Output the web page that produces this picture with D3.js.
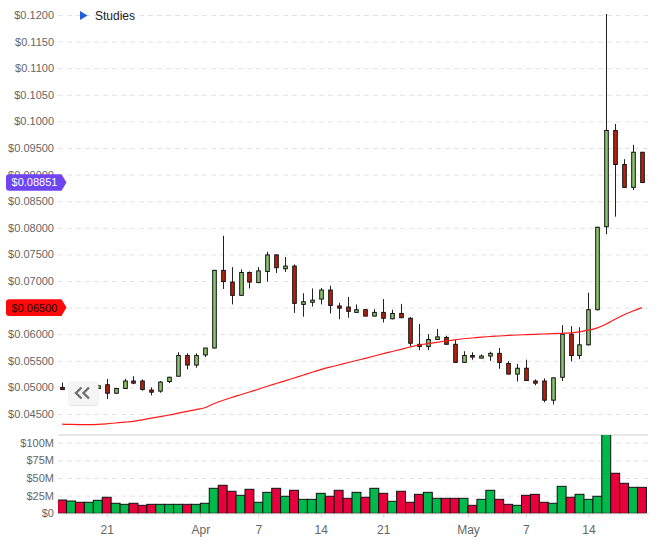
<!DOCTYPE html>
<html>
<head>
<meta charset="utf-8">
<script src="https://cdn.jsdelivr.net/npm/d3@7/dist/d3.min.js"></script>
<style>
  body { margin: 0; background: #fff; }
  svg { display: block; font-family: "Liberation Sans", Arial, sans-serif; }
  .grid line { stroke: #e3e3eb; stroke-dasharray: 5,4; }
  .grid text { fill: #666; font-size: 11px; }
</style>
</head>
<body>
<svg id="chart" width="658" height="547"></svg>
<script>
(function () {
  // Daily candles, 16 Mar .. 20 May
  const firstDay = "2018-03-16";
  const lastDay = "2018-05-20";

  const opens = [0.0500, 0.0497, 0.0502, 0.0498, 0.0498, 0.0505, 0.0489, 0.0498, 0.0512, 0.0512,
    0.0495, 0.0493, 0.0511, 0.0521, 0.0560, 0.0542, 0.0561, 0.0574, 0.0720, 0.0698,
    0.0673, 0.0716, 0.0697, 0.0718, 0.0749, 0.0723, 0.0728, 0.0656, 0.0660, 0.0666,
    0.0683, 0.0653, 0.0651, 0.0641, 0.0646, 0.0634, 0.0641, 0.0629, 0.0639, 0.0630,
    0.0581, 0.0577, 0.0590, 0.0594, 0.0581, 0.0547, 0.0560, 0.0555, 0.0559, 0.0564,
    0.0545, 0.0525, 0.0536, 0.0512, 0.0512, 0.0476, 0.0519, 0.0600, 0.0560, 0.0580,
    0.0646, 0.0802, 0.0983, 0.0919, 0.0876, 0.0942];
  const highs = [0.0509, 0.0505, 0.0506, 0.0507, 0.0505, 0.0516, 0.0499, 0.0516, 0.0521, 0.0515,
    0.0500, 0.0512, 0.0520, 0.0566, 0.0564, 0.0564, 0.0574, 0.0721, 0.0785, 0.0726,
    0.0722, 0.0718, 0.0726, 0.0755, 0.0750, 0.0745, 0.0731, 0.0677, 0.0686, 0.0687,
    0.0691, 0.0659, 0.0670, 0.0656, 0.0647, 0.0647, 0.0666, 0.0646, 0.0657, 0.0632,
    0.0619, 0.0600, 0.0610, 0.0597, 0.0589, 0.0568, 0.0566, 0.0562, 0.0567, 0.0574,
    0.0549, 0.0544, 0.0552, 0.0515, 0.0517, 0.0518, 0.0617, 0.0615, 0.0613, 0.0678,
    0.0802, 0.1202, 0.0995, 0.0929, 0.0956, 0.0942];
  const lows = [0.0496, 0.0494, 0.0495, 0.0496, 0.0497, 0.0478, 0.0488, 0.0497, 0.0506, 0.0494,
    0.0485, 0.0490, 0.0508, 0.0521, 0.0534, 0.0537, 0.0557, 0.0573, 0.0685, 0.0656,
    0.0673, 0.0686, 0.0696, 0.0699, 0.0715, 0.0717, 0.0640, 0.0633, 0.0652, 0.0656,
    0.0639, 0.0628, 0.0631, 0.0641, 0.0634, 0.0634, 0.0622, 0.0628, 0.0631, 0.0577,
    0.0570, 0.0570, 0.0590, 0.0581, 0.0547, 0.0547, 0.0552, 0.0555, 0.0550, 0.0535,
    0.0525, 0.0511, 0.0513, 0.0504, 0.0472, 0.0468, 0.0512, 0.0549, 0.0553, 0.0579,
    0.0645, 0.0788, 0.0821, 0.0876, 0.0871, 0.0885];
  const closes = [0.0496, 0.0502, 0.0498, 0.0503, 0.0503, 0.0489, 0.0498, 0.0512, 0.0508, 0.0496,
    0.0491, 0.0510, 0.0519, 0.0560, 0.0542, 0.0560, 0.0574, 0.0720, 0.0699, 0.0673,
    0.0716, 0.0698, 0.0719, 0.0749, 0.0725, 0.0728, 0.0658, 0.0661, 0.0664, 0.0683,
    0.0654, 0.0649, 0.0643, 0.0646, 0.0634, 0.0641, 0.0630, 0.0639, 0.0631, 0.0583,
    0.0577, 0.0590, 0.0595, 0.0581, 0.0547, 0.0560, 0.0557, 0.0559, 0.0564, 0.0547,
    0.0525, 0.0536, 0.0513, 0.0508, 0.0476, 0.0518, 0.0600, 0.0560, 0.0580, 0.0646,
    0.0801, 0.0983, 0.0919, 0.0876, 0.0942, 0.08851];
  // volume in $M
  const volumes = [18.8, 17.4, 15.6, 15.6, 18.4, 22.7, 14.2, 12.7, 14.2, 11.3,
    12.7, 12.7, 12.7, 12.7, 12.7, 12.7, 14.2, 35.4, 39.7, 31.2,
    25.5, 34.0, 15.6, 29.7, 35.4, 24.1, 32.6, 19.8, 19.8, 28.3,
    24.1, 32.6, 21.2, 29.7, 22.7, 35.4, 28.3, 17.0, 31.2, 15.6,
    26.9, 29.7, 21.2, 21.2, 21.2, 21.2, 11.3, 19.8, 32.6, 19.8,
    12.7, 11.3, 25.5, 26.9, 15.6, 14.2, 38.2, 22.7, 26.9, 19.8,
    24.1, 112, 56.7, 42.5, 36.8, 36.8];
  // moving average study
  const movingAvg = [0.04308, 0.04304, 0.04302, 0.04302, 0.04306, 0.04316, 0.04331, 0.04346, 0.04363, 0.04391,
    0.04421, 0.04451, 0.04481, 0.04515, 0.04549, 0.04581, 0.04618, 0.04692, 0.04754, 0.04810,
    0.04861, 0.04914, 0.04966, 0.05021, 0.05073, 0.05124, 0.05177, 0.05229, 0.05284, 0.05335,
    0.05380, 0.05421, 0.05464, 0.05506, 0.05547, 0.05590, 0.05634, 0.05675, 0.05716, 0.05759,
    0.05797, 0.05823, 0.05848, 0.05872, 0.05895, 0.05914, 0.05929, 0.05944, 0.05957, 0.05966,
    0.05977, 0.05985, 0.05992, 0.05998, 0.06004, 0.06009, 0.06017, 0.06026, 0.06045, 0.06075,
    0.06120, 0.06192, 0.06282, 0.06365, 0.06436, 0.06500];

  const priceTicks = [0.045, 0.050, 0.055, 0.060, 0.065, 0.070, 0.075, 0.080,
    0.085, 0.090, 0.095, 0.100, 0.105, 0.110, 0.115, 0.120];
  const volumeTicks = [0, 25, 50, 75, 100];
  const tickDates = ["2018-03-21T12:00Z", "2018-04-01T00:00Z", "2018-04-07T12:00Z", "2018-04-14T12:00Z",
    "2018-04-21T12:00Z", "2018-05-01T00:00Z", "2018-05-07T12:00Z", "2018-05-14T12:00Z"];
  const tickLabels = ["21", "Apr", "7", "14", "21", "May", "7", "14"];

  // Layout
  const plotL = 58, plotR = 648;
  const priceTop = 0, priceBottom = 435;
  const volTop = 435, volBottom = 513.3;

  const svg = d3.select("#chart");

  const days = d3.utcDay.range(new Date(firstDay), d3.utcDay.offset(new Date(lastDay), 1));
  const candles = days.map((d, i) => ({
    date: d3.utcHour.offset(d, 12),
    open: opens[i], high: highs[i], low: lows[i], close: closes[i],
    volume: volumes[i], ma: movingAvg[i],
    up: closes[i] >= opens[i],
  }));

  const x = d3.scaleUtc()
    .domain([d3.utcHour.offset(new Date(firstDay), 1), d3.utcMinute.offset(new Date(lastDay), 28 * 60 + 19)])
    .range([plotL, plotR]);
  const band = x(candles[1].date) - x(candles[0].date);

  const y = d3.scaleLinear().domain([0.045, 0.12]).range([414, 15]);
  const yVol = d3.scaleLinear().domain([0, 100]).range([volBottom, 442.7]);

  const lastClose = closes[closes.length - 1];
  const lastMa = movingAvg[movingAvg.length - 1];

  const defs = svg.append("defs");
  defs.append("clipPath").attr("id", "clipPrice")
    .append("rect").attr("x", plotL).attr("y", priceTop)
    .attr("width", plotR - plotL).attr("height", priceBottom - priceTop);
  defs.append("clipPath").attr("id", "clipVol")
    .append("rect").attr("x", plotL).attr("y", volTop)
    .attr("width", plotR - plotL).attr("height", volBottom - volTop);

  // Price grid + axis
  const priceFmt = d3.format("$.4r");
  svg.append("g")
    .attr("class", "grid")
    .attr("transform", `translate(${plotL},0)`)
    .call(d3.axisLeft(y).tickValues(priceTicks).tickFormat(priceFmt)
      .tickSizeInner(-(plotR - plotL)).tickSizeOuter(0).tickPadding(4))
    .call(g => g.select(".domain").remove())
    // labels fully covered by the price tags are not shown
    .call(g => g.selectAll(".tick").filter(d => Math.abs(y(d) - y(lastMa)) < 6 || Math.abs(y(d) - y(lastClose)) < 6)
      .select("text").remove());

  // Volume grid + axis
  const volFmt = d3.format("$~s");
  svg.append("g")
    .attr("class", "grid")
    .attr("transform", `translate(${plotL},0)`)
    .call(d3.axisLeft(yVol).tickValues(volumeTicks).tickFormat(d => volFmt(d * 1e6))
      .tickSizeInner(-(plotR - plotL)).tickSizeOuter(0).tickPadding(4))
    .call(g => g.select(".domain").remove())
    .call(g => g.selectAll(".tick").filter(d => d === 0).select("line").remove());

  // Panel separator
  svg.append("line")
    .attr("x1", plotL).attr("x2", plotR)
    .attr("y1", priceBottom).attr("y2", priceBottom)
    .attr("stroke", "#cfcfcf").attr("stroke-width", 1);

  // X axis
  const xAxis = svg.append("g")
    .attr("transform", `translate(0,${volBottom})`)
    .call(d3.axisBottom(x).tickValues(tickDates.map(s => new Date(s)))
      .tickFormat((d, i) => tickLabels[i]).tickSizeInner(4).tickSizeOuter(0).tickPadding(8));
  xAxis.select(".domain").attr("stroke", "#d6d6d6");
  xAxis.selectAll(".tick line").attr("stroke", "#d6d6d6");
  xAxis.selectAll(".tick text").attr("fill", "#666").style("font-size", "12px");

  // Volume bars
  svg.append("g")
    .attr("clip-path", "url(#clipVol)")
    .selectAll("rect")
    .data(candles)
    .join("rect")
    .attr("x", d => x(d.date) - band / 2)
    .attr("width", band)
    .attr("y", d => yVol(d.volume))
    .attr("height", d => yVol(0) - yVol(d.volume))
    .attr("fill", d => d.up ? "#00b94d" : "#e8003d")
    .attr("stroke", "#111")
    .attr("stroke-width", 1);

  // Candles
  const priceG = svg.append("g").attr("clip-path", "url(#clipPrice)");
  const bodyW = 3.6;

  priceG.append("g")
    .selectAll("line")
    .data(candles)
    .join("line")
    .attr("x1", d => Math.round(x(d.date)) + 0.5)
    .attr("x2", d => Math.round(x(d.date)) + 0.5)
    .attr("y1", d => y(d.high))
    .attr("y2", d => y(d.low))
    .attr("stroke", "#222")
    .attr("stroke-width", 1);

  priceG.append("g")
    .selectAll("rect")
    .data(candles)
    .join("rect")
    .attr("x", d => Math.round(x(d.date)) + 0.5 - bodyW / 2)
    .attr("width", bodyW)
    .attr("y", d => y(Math.max(d.open, d.close)))
    .attr("height", d => Math.max(1.5, Math.abs(y(d.open) - y(d.close))))
    .attr("fill", d => d.up ? "#8cc36d" : "#b8210b")
    .attr("stroke", "#111")
    .attr("stroke-width", 1);

  // Moving average
  priceG.append("path")
    .datum(candles)
    .attr("fill", "none")
    .attr("stroke", "#ff1a1a")
    .attr("stroke-width", 1.2)
    .attr("d", d3.line().x(d => x(d.date)).y(d => y(d.ma)).curve(d3.curveMonotoneX));

  // Price tags on the axis
  function tag(value, fill, textFill) {
    const yc = y(value);
    const p = d3.path();
    p.moveTo(9, yc - 8.3);
    p.lineTo(61.5, yc - 8.3);
    p.lineTo(66.5, yc);
    p.lineTo(61.5, yc + 8.3);
    p.lineTo(9, yc + 8.3);
    p.quadraticCurveTo(6, yc + 8.3, 6, yc + 5.3);
    p.lineTo(6, yc - 5.3);
    p.quadraticCurveTo(6, yc - 8.3, 9, yc - 8.3);
    p.closePath();
    svg.append("path").attr("d", p.toString()).attr("fill", fill);
    svg.append("text")
      .attr("x", 34.5).attr("y", yc)
      .attr("dy", "0.36em")
      .attr("text-anchor", "middle")
      .attr("fill", textFill)
      .style("font-size", "11px")
      .text(priceFmt(value));
  }
  tag(lastMa, "#ff0a0a", "#2a0000");
  tag(lastClose, "#6f45f2", "#fff");

  // Studies legend
  svg.append("path")
    .attr("d", "M80,11L87.5,15.5L80,20Z")
    .attr("fill", "#1f5fd8");
  svg.append("text")
    .attr("x", 95).attr("y", 20)
    .attr("fill", "#222")
    .style("font-size", "12px")
    .text("Studies");

  // Scroll-back button
  const btn = svg.append("g").attr("transform", "translate(68,381.5)");
  btn.append("rect")
    .attr("x", 0.5).attr("y", 1).attr("width", 30).attr("height", 23.5).attr("rx", 3)
    .attr("fill", "#e6e6e6");
  btn.append("rect")
    .attr("width", 30).attr("height", 23.5).attr("rx", 3)
    .attr("fill", "#f5f5f5");
  btn.append("path")
    .attr("d", "M13.5,6L8,11.5L13.5,17M21,6L15.5,11.5L21,17")
    .attr("fill", "none")
    .attr("stroke", "#707070")
    .attr("stroke-width", 2.4);
})();
</script>
</body>
</html>
